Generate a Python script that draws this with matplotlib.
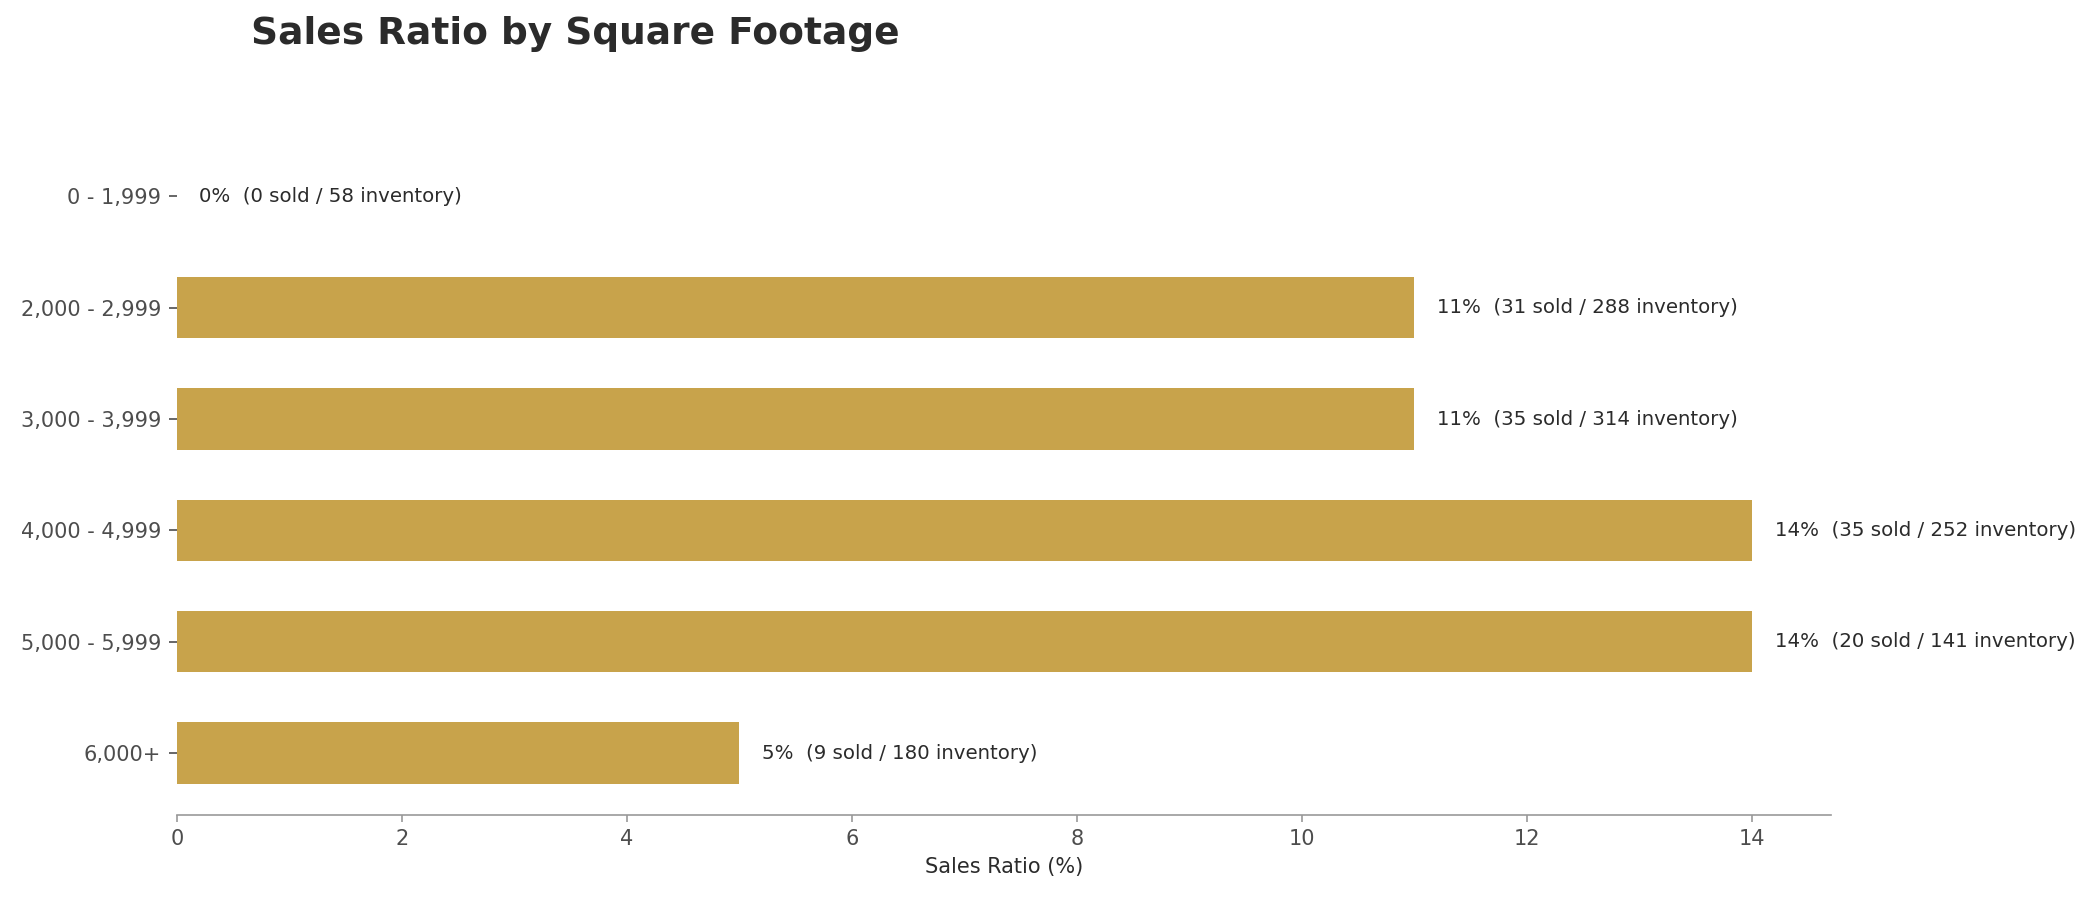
import matplotlib
matplotlib.use("Agg")
import matplotlib.pyplot as plt

# Data
categories = ["0 - 1,999", "2,000 - 2,999", "3,000 - 3,999",
              "4,000 - 4,999", "5,000 - 5,999", "6,000+"]
ratio = [0, 11, 11, 14, 14, 5]
sold = [0, 31, 35, 35, 20, 9]
inventory = [58, 288, 314, 252, 141, 180]

bar_color = "#C8A34B"
text_color = "#2b2b2b"
tick_color = "#4d4d4d"

fig = plt.figure(figsize=(14, 6), dpi=150)
ax = fig.add_axes([0.0842, 0.095, 0.7876, 0.755])

ax.barh(categories, ratio, height=0.55, color=bar_color, linewidth=0)
ax.invert_yaxis()
ax.set_xlim(0, 14.7)

for i, (r, s, n) in enumerate(zip(ratio, sold, inventory)):
    ax.text(r + 0.2, i, f"{r}%  ({s} sold / {n} inventory)",
            va="center", ha="left", fontsize=9.5, color=text_color)

ax.set_xlabel("Sales Ratio (%)", fontsize=10, color=text_color)
ax.tick_params(axis="both", labelsize=10, labelcolor=tick_color)
ax.tick_params(axis="x", color="#999999")
ax.tick_params(axis="y", color=tick_color, length=4)

for side in ["top", "right", "left"]:
    ax.spines[side].set_visible(False)
ax.spines["bottom"].set_color("#999999")

fig.text(0.274, 0.962, "Sales Ratio by Square Footage", ha="center", va="center",
         fontsize=18, fontweight="bold", color=text_color)

fig.savefig("out.png", dpi=150)
